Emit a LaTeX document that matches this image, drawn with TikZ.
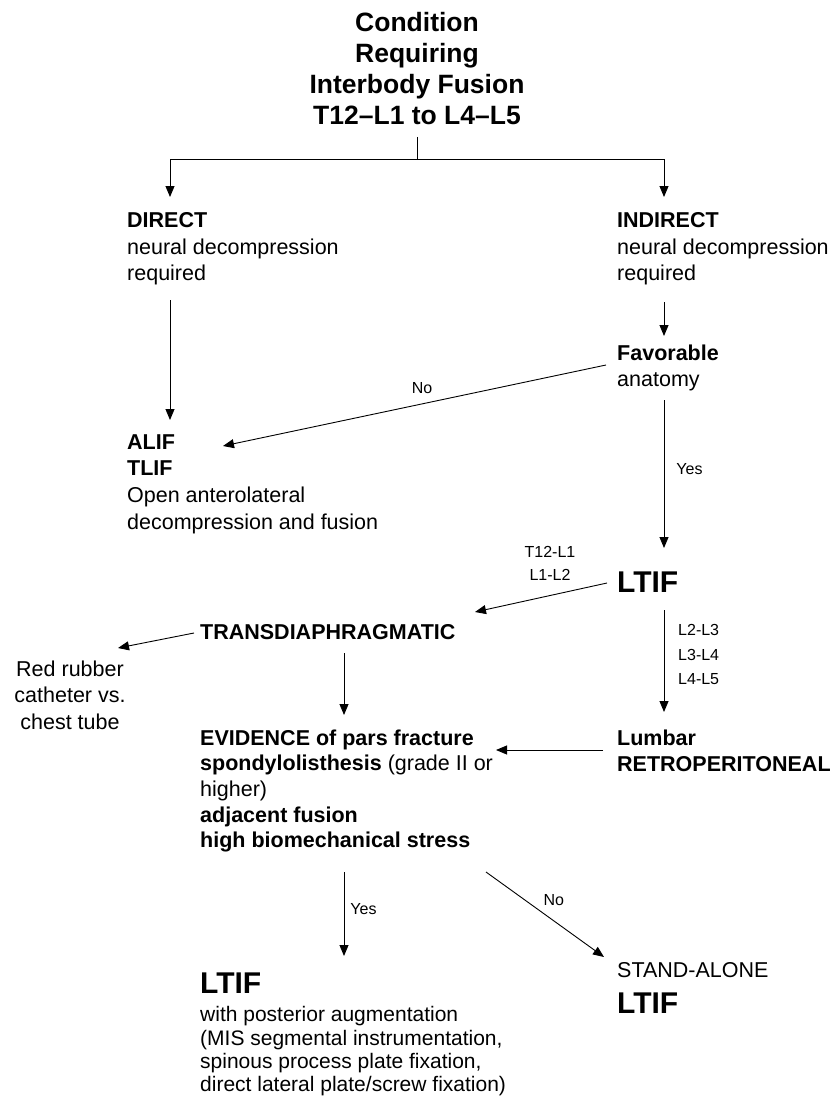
\documentclass[tikz,border=0pt]{standalone}
\usepackage{fontspec}
\setmainfont{Liberation Sans}
\usetikzlibrary{arrows.meta}
\begin{document}
\begin{tikzpicture}[x=1pt,y=-1pt,
  arr/.style={-{Triangle[length=11pt,width=9pt]}, line width=0.9pt},
  ln/.style={line width=0.9pt},
  blk/.style={inner sep=0pt, anchor=north west, align=left, font=\fontsize{21.5}{26.5}\selectfont},
  blkb/.style={blk, font=\fontsize{21.5}{26.5}\selectfont\bfseries},
  lbl/.style={inner sep=0pt, font=\fontsize{16}{23}\selectfont},
  big/.style={inner sep=0pt, anchor=north west, font=\fontsize{30}{34}\selectfont\bfseries}]
\useasboundingbox (0,0) rectangle (836,1097);

% nodes
\node[inner sep=0pt, anchor=north, align=center, font=\fontsize{26.5}{31}\selectfont\bfseries] (title) at (417,12.5) {Condition\\Requiring\\Interbody Fusion\\T12–L1 to L4–L5};
\node[blk] (direct) at (127,212.3) {\textbf{DIRECT}\\neural decompression\\required};
\node[blk] (indirect) at (617,212.3) {\textbf{INDIRECT}\\neural decompression\\required};
\node[blk] (fav) at (617,344.3) {\textbf{Favorable}\\anatomy};
\node[blk, font=\fontsize{21.5}{26.7}\selectfont] (alif) at (127,434.3) {\textbf{ALIF}\\\textbf{TLIF}\\Open anterolateral\\decompression and fusion};
\node[lbl, anchor=north, align=center] (tl) at (550,546.3) {T12-L1\\L1-L2};
\node[big] (ltif) at (617,571.3) {LTIF};
\node[lbl, anchor=north west, align=left, font=\fontsize{16}{24.5}\selectfont] (ll) at (678,624.3) {L2-L3\\L3-L4\\L4-L5};
\node[blkb] (trans) at (200,624.3) {TRANSDIAPHRAGMATIC};
\node[blk, anchor=north, align=center] (red) at (70,660.3) {Red rubber\\catheter vs.\\chest tube};
\node[blk, font=\fontsize{21.5}{25.7}\selectfont] (evid) at (200,729.3) {\textbf{EVIDENCE of pars fracture}\\\textbf{spondylolisthesis} (grade II or\\higher)\\\textbf{adjacent fusion}\\\textbf{high biomechanical stress}};
\node[blkb] (lumbar) at (617,729.3) {Lumbar\\RETROPERITONEAL};
\node[big] (ltifa) at (200,972.3) {LTIF};
\node[blk, font=\fontsize{21}{23.3}\selectfont] (aug) at (200,1006.4) {with posterior augmentation\\(MIS segmental instrumentation,\\spinous process plate fixation,\\direct lateral plate/screw fixation)};
\node[blk] (stand) at (617,962.3) {STAND-ALONE};
\node[big] (ltifs) at (617,992.8) {LTIF};

% connector coordinates
\coordinate (t0) at (417,137);
\coordinate (j) at (417,159);
\coordinate (jl) at (170,159);
\coordinate (jr) at (664,159);
\coordinate (dT) at (170,197);
\coordinate (iT) at (664,197);
\coordinate (dB) at (170,300);
\coordinate (aT) at (170,420);
\coordinate (iB) at (664,302);
\coordinate (fT) at (664,336);
\coordinate (fL) at (606,365);
\coordinate (aR) at (223,446);
\coordinate (fB) at (664,400);
\coordinate (lT) at (664,548);
\coordinate (lL) at (607,583);
\coordinate (tR) at (475,612);
\coordinate (lB) at (664,610);
\coordinate (luT) at (664,712);
\coordinate (tL) at (194,633);
\coordinate (rR) at (118,648);
\coordinate (tB) at (344,653);
\coordinate (eT) at (344,715);
\coordinate (luL) at (603,750);
\coordinate (eR) at (496,750);
\coordinate (eB) at (344,872);
\coordinate (xT) at (344,956);
\coordinate (eB2) at (486,872);
\coordinate (sT) at (604,957);

% connectors
\draw[ln] (t0) -- (j);
\draw[ln] (jl) -- (jr);
\draw[arr] (jl) -- (dT);
\draw[arr] (jr) -- (iT);
\draw[arr] (dB) -- (aT);
\draw[arr] (iB) -- (fT);
\draw[arr] (fL) -- (aR) node[lbl, pos=0.48, above=10pt] (no1) {No};
\draw[arr] (fB) -- (lT) node[lbl, pos=0.47, right=12pt] (yes1) {Yes};
\draw[arr] (lL) -- (tR);
\draw[arr] (lB) -- (luT);
\draw[arr] (tL) -- (rR);
\draw[arr] (tB) -- (eT);
\draw[arr] (luL) -- (eR);
\draw[arr] (eB) -- (xT) node[lbl, pos=0.44, right=6pt] (yes2) {Yes};
\draw[arr] (eB2) -- (sT) node[lbl, pos=0.45, above right=4pt] (no2) {No};
\end{tikzpicture}
\end{document}
